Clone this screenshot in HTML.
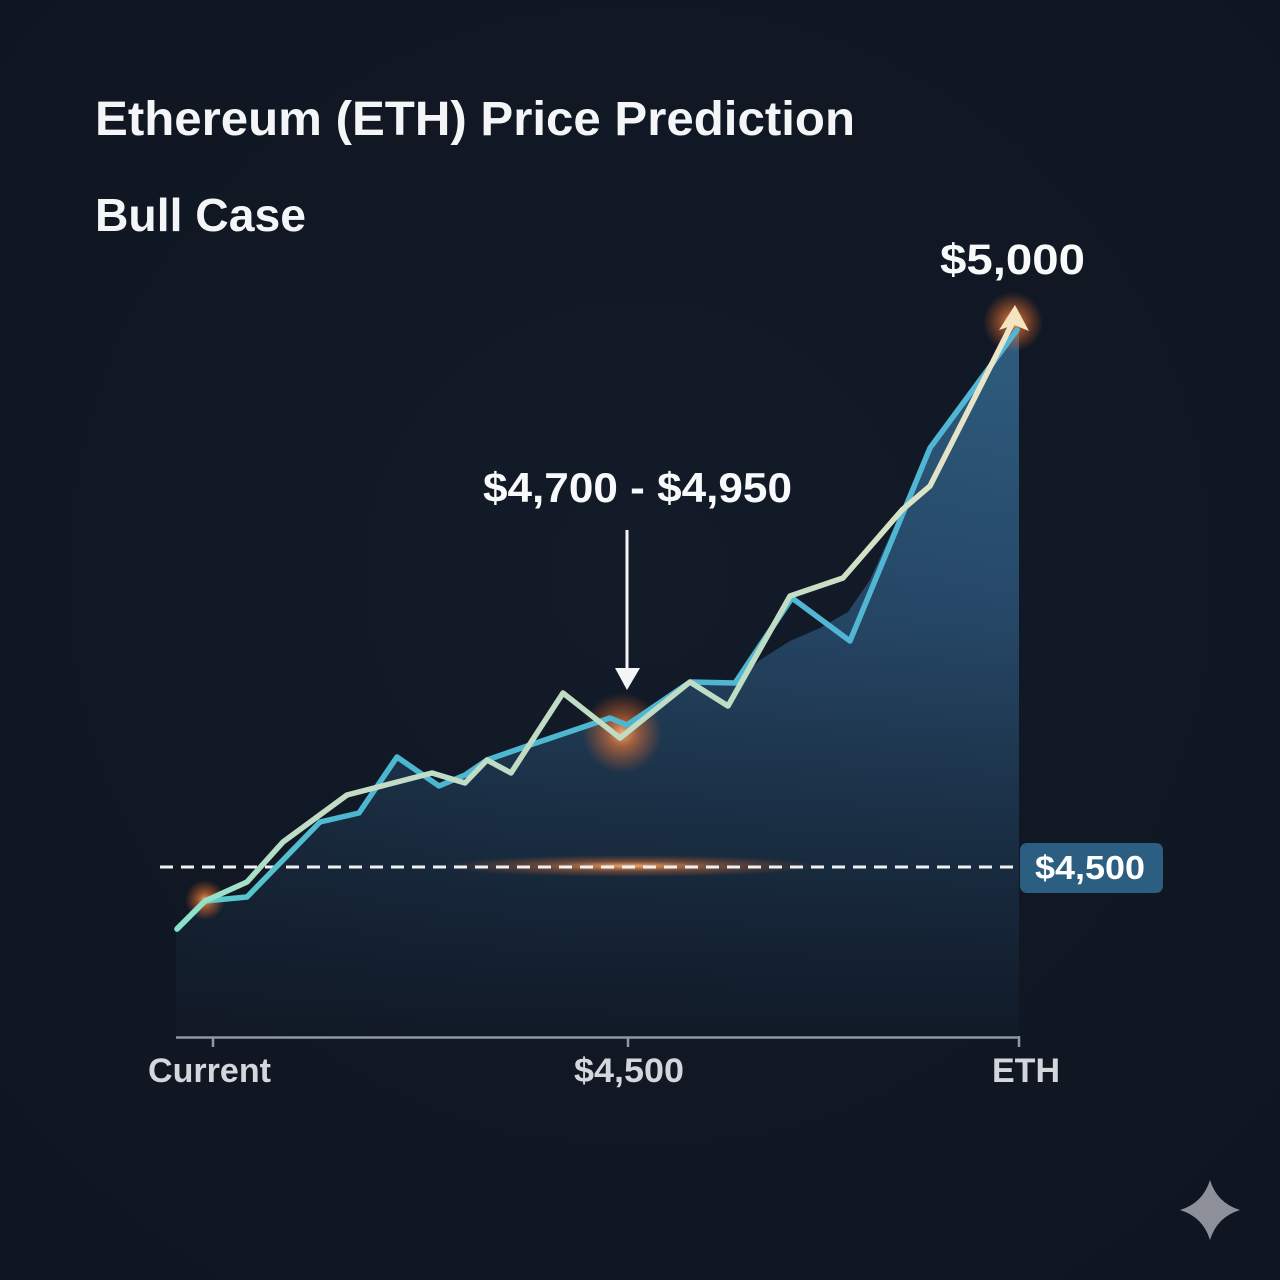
<!DOCTYPE html>
<html><head><meta charset="utf-8"><style>
html,body{margin:0;padding:0;background:#111723;}
svg{display:block;}
</style></head><body>
<svg width="1280" height="1280" viewBox="0 0 1280 1280" xmlns="http://www.w3.org/2000/svg">
<defs>
<radialGradient id="bg" cx="0.5" cy="0.45" r="0.75">
<stop offset="0" stop-color="#131b29"/><stop offset="1" stop-color="#0f1520"/>
</radialGradient>
<linearGradient id="fill" x1="0" y1="330" x2="0" y2="1035" gradientUnits="userSpaceOnUse">
<stop offset="0" stop-color="#2e5c7e"/>
<stop offset="0.4" stop-color="#264868"/>
<stop offset="0.68" stop-color="#1b3147"/>
<stop offset="0.88" stop-color="#142233"/>
<stop offset="1" stop-color="#111a27"/>
</linearGradient>
<linearGradient id="hfade" x1="176" y1="0" x2="1019" y2="0" gradientUnits="userSpaceOnUse">
<stop offset="0" stop-color="#111723" stop-opacity="0.35"/>
<stop offset="0.4" stop-color="#111723" stop-opacity="0.1"/>
<stop offset="1" stop-color="#111723" stop-opacity="0"/>
</linearGradient>
<linearGradient id="cream" x1="176" y1="0" x2="1020" y2="0" gradientUnits="userSpaceOnUse">
<stop offset="0" stop-color="#86e3c8"/>
<stop offset="0.15" stop-color="#c2dcc6"/>
<stop offset="0.7" stop-color="#bfdcc4"/>
<stop offset="1" stop-color="#f0e6c8"/>
</linearGradient>
<linearGradient id="blue" x1="176" y1="0" x2="1020" y2="0" gradientUnits="userSpaceOnUse">
<stop offset="0" stop-color="#5fd0c8"/>
<stop offset="0.2" stop-color="#4cb7d0"/>
<stop offset="1" stop-color="#52b6d4"/>
</linearGradient>
<radialGradient id="glow">
<stop offset="0" stop-color="#ffb070" stop-opacity="0.95"/>
<stop offset="0.35" stop-color="#f07a38" stop-opacity="0.6"/>
<stop offset="1" stop-color="#e06020" stop-opacity="0"/>
</radialGradient>
<radialGradient id="lglow">
<stop offset="0" stop-color="#ffb070" stop-opacity="0.95"/>
<stop offset="0.45" stop-color="#e87a3a" stop-opacity="0.4"/>
<stop offset="1" stop-color="#e06020" stop-opacity="0"/>
</radialGradient>
</defs>
<rect width="1280" height="1280" fill="url(#bg)"/>

<text x="95" y="135" font-family="Liberation Sans, sans-serif" font-weight="bold" font-size="48" fill="#f4f5f7" textLength="760" lengthAdjust="spacingAndGlyphs">Ethereum (ETH) Price Prediction</text>
<text x="95" y="231" font-family="Liberation Sans, sans-serif" font-weight="bold" font-size="46" fill="#f4f5f7" textLength="211" lengthAdjust="spacingAndGlyphs">Bull Case</text>

<!-- area fill -->
<path d="M176,929 L205,901 L247,897 L320,822 L359,813 L397,757 L439,786 L465,775 L487,760 L530,745 L610,718 L627,725 L690,682 L735,683 L760,660 L790,641 L820,628 L848,612 L870,580 L930,448 L1019,330 L1019,1035 L176,1035 Z" fill="url(#fill)"/>
<path d="M176,929 L205,901 L247,897 L320,822 L359,813 L397,757 L439,786 L465,775 L487,760 L530,745 L610,718 L627,725 L690,682 L735,683 L760,660 L790,641 L820,628 L848,612 L870,580 L930,448 L1019,330 L1019,1035 L176,1035 Z" fill="url(#hfade)"/>

<!-- dashed line glow -->
<ellipse cx="630" cy="866" rx="190" ry="11" fill="url(#lglow)"/>
<line x1="160" y1="867" x2="1015" y2="867" stroke="#eef0f2" stroke-width="3" stroke-dasharray="13 8"/>

<!-- label box -->
<rect x="1020" y="843" width="143" height="50" rx="7" fill="#2b5e80"/>
<text x="1035" y="879" font-family="Liberation Sans, sans-serif" font-weight="bold" font-size="33" fill="#ffffff" textLength="110" lengthAdjust="spacingAndGlyphs">$4,500</text>

<!-- glows -->
<circle cx="622" cy="733" r="40" fill="url(#glow)"/>
<circle cx="205" cy="900" r="20" fill="url(#glow)"/>
<circle cx="1013" cy="322" r="30" fill="url(#glow)"/>

<!-- blue line -->
<polyline points="177,929 205,901 247,897 320,822 359,813 397,757 439,786 465,775 487,760 530,745 610,718 627,725 690,682 735,683 792,598 850,641 930,448 1017,330" fill="none" stroke="url(#blue)" stroke-width="5.5" stroke-linejoin="round" stroke-linecap="round"/>
<!-- cream line -->
<polyline points="177,929 205,901 247,882 283,842 347,795 432,773 465,783 487,760 511,773 563,693 620,738 690,682 728,706 790,596 843,578 902,510 930,486 1013,322" fill="none" stroke="url(#cream)" stroke-width="5.5" stroke-linejoin="round" stroke-linecap="round"/>
<polygon points="1015,305 1029,331 1014,325 999,330" fill="#f4e4c2"/>

<!-- annotation -->
<text x="483" y="502" font-family="Liberation Sans, sans-serif" font-weight="bold" font-size="42" fill="#f8f9fa" textLength="309" lengthAdjust="spacingAndGlyphs">$4,700 - $4,950</text>
<line x1="627" y1="530" x2="627" y2="670" stroke="#f4f5f6" stroke-width="3"/>
<polygon points="615,668 640,668 627,690" fill="#f4f5f6"/>

<text x="940" y="274" font-family="Liberation Sans, sans-serif" font-weight="bold" font-size="43" fill="#f8f9fa" textLength="145" lengthAdjust="spacingAndGlyphs">$5,000</text>

<!-- axis -->
<line x1="176" y1="1037.5" x2="1019" y2="1037.5" stroke="#8f98a3" stroke-width="2.5"/>
<line x1="213" y1="1037" x2="213" y2="1047" stroke="#8f98a3" stroke-width="2.5"/>
<line x1="628" y1="1037" x2="628" y2="1047" stroke="#8f98a3" stroke-width="2.5"/>
<line x1="1019" y1="1036" x2="1019" y2="1047" stroke="#8f98a3" stroke-width="2.5"/>
<g font-family="Liberation Sans, sans-serif" font-weight="bold" font-size="34" fill="#d3d7dc">
<text x="148" y="1082" textLength="123" lengthAdjust="spacingAndGlyphs">Current</text>
<text x="574" y="1082" textLength="110" lengthAdjust="spacingAndGlyphs">$4,500</text>
<text x="992" y="1082" textLength="68" lengthAdjust="spacingAndGlyphs">ETH</text>
</g>

<!-- sparkle -->
<path d="M1210,1180 Q1217,1203 1240,1210 Q1217,1217 1210,1240 Q1203,1217 1180,1210 Q1203,1203 1210,1180 Z" fill="#8d9099"/>
</svg>
</body></html>
